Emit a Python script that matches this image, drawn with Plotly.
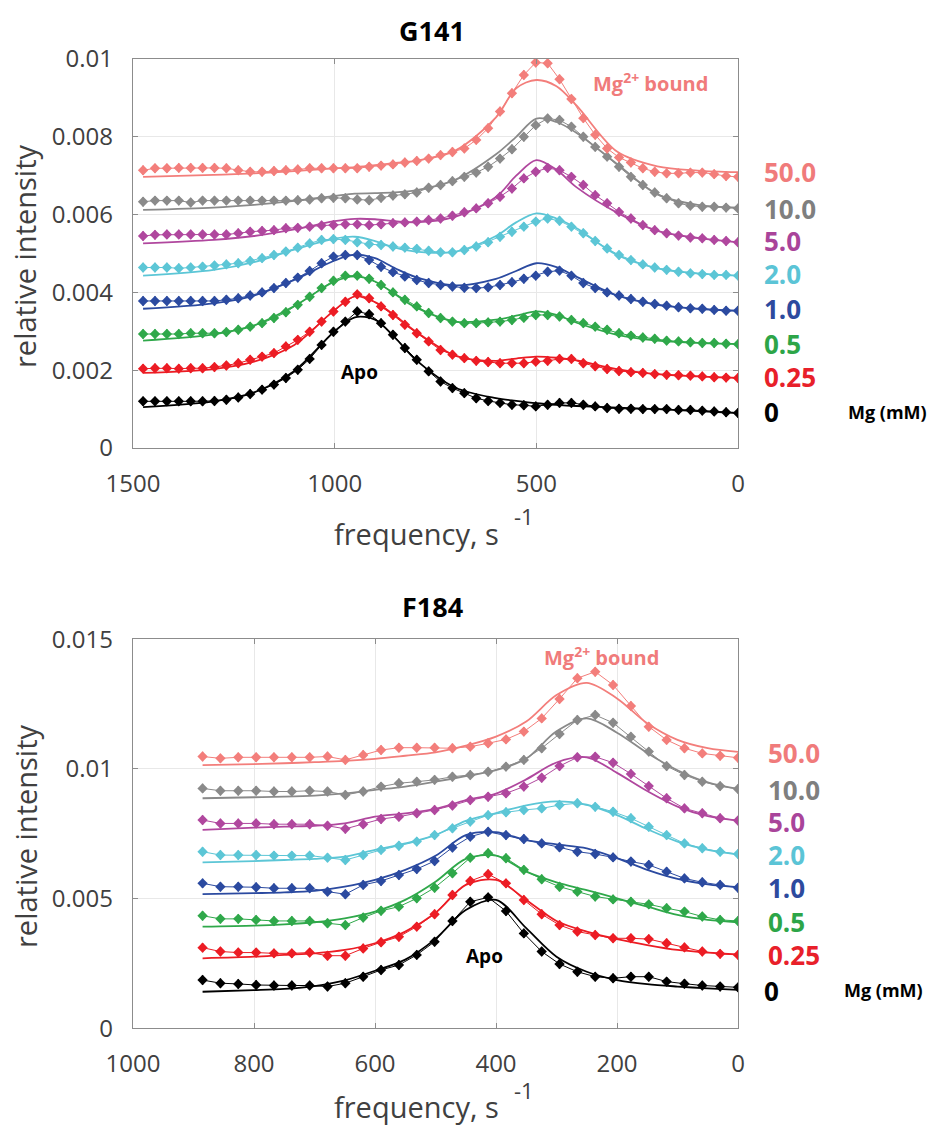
import plotly.graph_objects as go

# ---------------- frequency grids ----------------
STEP = 29.5
freq_g141 = [round(STEP * i, 1) for i in range(51)]   # 0 .. 1475 s^-1
freq_f184 = [round(STEP * i, 1) for i in range(31)]   # 0 .. 885 s^-1

fit_x_g141 = [0, 100, 200, 300, 400, 450, 500, 550, 600, 700, 800, 850, 900,
              950, 1000, 1100, 1200, 1300, 1475]
fit_x_f184 = [0, 50, 100, 150, 200, 250, 300, 350, 400, 450, 500, 550, 600,
              650, 700, 750, 800, 885]

mg_labels = ["0", "0.25", "0.5", "1.0", "2.0", "5.0", "10.0", "50.0"]
colors = ["#000000", "#ec1c24", "#2fa84a", "#2b4aa0", "#5cc6d6", "#b0479e",
          "#8a8a8a", "#f37e7b"]
label_colors = ["#000000", "#e8202a", "#2da548", "#2d4a9e", "#5bc4d6", "#a9449a",
                "#7f7f7f", "#f07b7b"]

# ---------------- G141 measured profiles ----------------
g141_0 = [0.00090, 0.00092, 0.00094, 0.00096, 0.00098, 0.00098, 0.00100, 0.00100, 0.00100, 0.00101,
          0.00101, 0.00103, 0.00107, 0.00111, 0.00116, 0.00116, 0.00111, 0.00107, 0.00110, 0.00111,
          0.00116, 0.00121, 0.00128, 0.00141, 0.00154, 0.00171, 0.00197, 0.00227, 0.00257, 0.00291,
          0.00321, 0.00344, 0.00351, 0.00325, 0.00299, 0.00265, 0.00229, 0.00201, 0.00180, 0.00163,
          0.00150, 0.00139, 0.00130, 0.00124, 0.00121, 0.00120, 0.00120, 0.00120, 0.00120, 0.00120,
          0.00120]
g141_025 = [0.00180, 0.00181, 0.00182, 0.00184, 0.00186, 0.00187, 0.00188, 0.00190, 0.00193, 0.00195,
            0.00198, 0.00203, 0.00210, 0.00218, 0.00229, 0.00229, 0.00224, 0.00222, 0.00218, 0.00218,
            0.00218, 0.00221, 0.00224, 0.00231, 0.00240, 0.00252, 0.00274, 0.00295, 0.00317, 0.00342,
            0.00364, 0.00385, 0.00395, 0.00376, 0.00351, 0.00325, 0.00299, 0.00278, 0.00261, 0.00244,
            0.00235, 0.00227, 0.00218, 0.00212, 0.00208, 0.00205, 0.00205, 0.00204, 0.00205, 0.00205,
            0.00204]
g141_05 = [0.00267, 0.00268, 0.00270, 0.00270, 0.00272, 0.00274, 0.00276, 0.00281, 0.00284, 0.00289,
           0.00295, 0.00304, 0.00312, 0.00321, 0.00329, 0.00338, 0.00342, 0.00342, 0.00335, 0.00329,
           0.00325, 0.00323, 0.00321, 0.00321, 0.00325, 0.00334, 0.00347, 0.00364, 0.00381, 0.00400,
           0.00419, 0.00435, 0.00443, 0.00443, 0.00430, 0.00411, 0.00389, 0.00368, 0.00349, 0.00334,
           0.00321, 0.00312, 0.00304, 0.00298, 0.00295, 0.00295, 0.00295, 0.00293, 0.00293, 0.00293,
           0.00293]
g141_1 = [0.00353, 0.00353, 0.00355, 0.00358, 0.00359, 0.00362, 0.00366, 0.00370, 0.00376, 0.00383,
          0.00392, 0.00400, 0.00411, 0.00424, 0.00443, 0.00456, 0.00453, 0.00443, 0.00435, 0.00426,
          0.00419, 0.00413, 0.00411, 0.00412, 0.00415, 0.00419, 0.00424, 0.00432, 0.00441, 0.00452,
          0.00466, 0.00483, 0.00496, 0.00496, 0.00492, 0.00475, 0.00455, 0.00438, 0.00424, 0.00411,
          0.00400, 0.00392, 0.00385, 0.00381, 0.00378, 0.00378, 0.00378, 0.00378, 0.00378, 0.00378,
          0.00378]
g141_2 = [0.00443, 0.00445, 0.00445, 0.00447, 0.00449, 0.00453, 0.00458, 0.00464, 0.00472, 0.00483,
          0.00496, 0.00513, 0.00532, 0.00552, 0.00569, 0.00584, 0.00590, 0.00582, 0.00569, 0.00556,
          0.00543, 0.00529, 0.00518, 0.00509, 0.00503, 0.00503, 0.00507, 0.00512, 0.00515, 0.00518,
          0.00522, 0.00524, 0.00529, 0.00535, 0.00537, 0.00535, 0.00526, 0.00515, 0.00505, 0.00496,
          0.00488, 0.00481, 0.00475, 0.00472, 0.00469, 0.00466, 0.00464, 0.00462, 0.00464, 0.00464,
          0.00464]
g141_5 = [0.00529, 0.00532, 0.00535, 0.00539, 0.00541, 0.00546, 0.00552, 0.00560, 0.00573, 0.00590,
          0.00607, 0.00629, 0.00650, 0.00676, 0.00697, 0.00714, 0.00720, 0.00710, 0.00693, 0.00667,
          0.00646, 0.00629, 0.00616, 0.00606, 0.00597, 0.00590, 0.00586, 0.00582, 0.00580, 0.00578,
          0.00575, 0.00573, 0.00575, 0.00575, 0.00573, 0.00572, 0.00569, 0.00566, 0.00565, 0.00560,
          0.00558, 0.00556, 0.00552, 0.00549, 0.00549, 0.00549, 0.00549, 0.00549, 0.00549, 0.00548,
          0.00545]
g141_10 = [0.00616, 0.00618, 0.00620, 0.00620, 0.00623, 0.00629, 0.00642, 0.00657, 0.00676, 0.00697,
           0.00723, 0.00749, 0.00774, 0.00800, 0.00826, 0.00843, 0.00847, 0.00830, 0.00800, 0.00768,
           0.00744, 0.00723, 0.00708, 0.00697, 0.00686, 0.00676, 0.00669, 0.00657, 0.00652, 0.00649,
           0.00643, 0.00637, 0.00639, 0.00642, 0.00643, 0.00642, 0.00639, 0.00637, 0.00636, 0.00636,
           0.00636, 0.00636, 0.00636, 0.00636, 0.00636, 0.00636, 0.00631, 0.00636, 0.00636, 0.00636,
           0.00633]
g141_50 = [0.00697, 0.00699, 0.00704, 0.00708, 0.00708, 0.00706, 0.00706, 0.00710, 0.00719, 0.00734,
           0.00747, 0.00770, 0.00805, 0.00848, 0.00897, 0.00948, 0.00989, 0.00991, 0.00959, 0.00912,
           0.00865, 0.00822, 0.00792, 0.00770, 0.00761, 0.00753, 0.00744, 0.00738, 0.00734, 0.00729,
           0.00726, 0.00723, 0.00719, 0.00719, 0.00719, 0.00719, 0.00719, 0.00716, 0.00714, 0.00712,
           0.00710, 0.00710, 0.00714, 0.00719, 0.00720, 0.00720, 0.00720, 0.00720, 0.00719, 0.00719,
           0.00714]

# ---------------- G141 fitted curves ----------------
g141_fit_0 = [0.00090, 0.00095, 0.00100, 0.00104, 0.00108, 0.00111, 0.00115, 0.00121, 0.00128, 0.00155,
              0.00228, 0.00283, 0.00330, 0.00336, 0.00300, 0.00198, 0.00143, 0.00120, 0.00105]
g141_fit_025 = [0.00180, 0.00184, 0.00190, 0.00203, 0.00225, 0.00232, 0.00235, 0.00230, 0.00224, 0.00237,
                0.00300, 0.00340, 0.00375, 0.00390, 0.00355, 0.00265, 0.00222, 0.00203, 0.00193]
g141_fit_05 = [0.00267, 0.00270, 0.00276, 0.00291, 0.00322, 0.00342, 0.00351, 0.00340, 0.00330, 0.00325,
               0.00362, 0.00395, 0.00428, 0.00441, 0.00428, 0.00365, 0.00315, 0.00292, 0.00276]
g141_fit_1 = [0.00353, 0.00358, 0.00368, 0.00392, 0.00440, 0.00465, 0.00475, 0.00455, 0.00435, 0.00418,
              0.00440, 0.00462, 0.00488, 0.00497, 0.00482, 0.00432, 0.00392, 0.00372, 0.00358]
g141_fit_2 = [0.00443, 0.00449, 0.00462, 0.00496, 0.00565, 0.00590, 0.00603, 0.00580, 0.00545, 0.00505,
              0.00505, 0.00515, 0.00532, 0.00543, 0.00538, 0.00510, 0.00478, 0.00458, 0.00443]
g141_fit_5 = [0.00529, 0.00540, 0.00558, 0.00605, 0.00670, 0.00715, 0.00740, 0.00700, 0.00645, 0.00595,
              0.00580, 0.00583, 0.00588, 0.00589, 0.00583, 0.00562, 0.00545, 0.00535, 0.00526]
g141_fit_10 = [0.00618, 0.00625, 0.00652, 0.00730, 0.00810, 0.00838, 0.00847, 0.00800, 0.00755, 0.00690,
               0.00662, 0.00657, 0.00655, 0.00654, 0.00648, 0.00635, 0.00625, 0.00618, 0.00612]
g141_fit_50 = [0.00709, 0.00713, 0.00724, 0.00762, 0.00880, 0.00930, 0.00946, 0.00925, 0.00850, 0.00765,
               0.00738, 0.00733, 0.00727, 0.00722, 0.00719, 0.00712, 0.00706, 0.00702, 0.00697]

# ---------------- F184 measured profiles ----------------
f184_0 = [0.00158, 0.00161, 0.00165, 0.00172, 0.00180, 0.00199, 0.00199, 0.00193, 0.00199, 0.00218,
          0.00248, 0.00296, 0.00366, 0.00452, 0.00505, 0.00488, 0.00414, 0.00334, 0.00283, 0.00244,
          0.00225, 0.00199, 0.00174, 0.00161, 0.00165, 0.00165, 0.00165, 0.00167, 0.00171, 0.00174,
          0.00186]
f184_025 = [0.00283, 0.00287, 0.00296, 0.00312, 0.00328, 0.00344, 0.00347, 0.00347, 0.00360, 0.00373,
            0.00398, 0.00440, 0.00495, 0.00559, 0.00594, 0.00568, 0.00514, 0.00440, 0.00392, 0.00353,
            0.00332, 0.00308, 0.00280, 0.00280, 0.00292, 0.00289, 0.00289, 0.00292, 0.00292, 0.00296,
            0.00311]
f184_05 = [0.00414, 0.00418, 0.00431, 0.00450, 0.00463, 0.00478, 0.00488, 0.00497, 0.00508, 0.00527,
           0.00546, 0.00575, 0.00611, 0.00656, 0.00675, 0.00658, 0.00598, 0.00542, 0.00501, 0.00469,
           0.00453, 0.00427, 0.00398, 0.00405, 0.00414, 0.00414, 0.00414, 0.00418, 0.00422, 0.00422,
           0.00434]
f184_1 = [0.00542, 0.00553, 0.00563, 0.00578, 0.00604, 0.00630, 0.00643, 0.00659, 0.00672, 0.00681,
          0.00698, 0.00713, 0.00730, 0.00745, 0.00758, 0.00739, 0.00697, 0.00645, 0.00614, 0.00591,
          0.00568, 0.00553, 0.00517, 0.00527, 0.00540, 0.00540, 0.00540, 0.00544, 0.00546, 0.00546,
          0.00559]
f184_2 = [0.00672, 0.00681, 0.00694, 0.00713, 0.00745, 0.00777, 0.00810, 0.00835, 0.00854, 0.00868,
          0.00861, 0.00848, 0.00842, 0.00833, 0.00822, 0.00797, 0.00771, 0.00745, 0.00720, 0.00704,
          0.00688, 0.00668, 0.00649, 0.00658, 0.00666, 0.00666, 0.00666, 0.00668, 0.00668, 0.00668,
          0.00681]
f184_5 = [0.00801, 0.00810, 0.00829, 0.00848, 0.00887, 0.00934, 0.00981, 0.01024, 0.01047, 0.01045,
          0.01011, 0.00966, 0.00932, 0.00906, 0.00893, 0.00880, 0.00859, 0.00842, 0.00829, 0.00816,
          0.00807, 0.00787, 0.00769, 0.00781, 0.00787, 0.00787, 0.00787, 0.00790, 0.00790, 0.00790,
          0.00803]
f184_10 = [0.00923, 0.00934, 0.00951, 0.00977, 0.01011, 0.01067, 0.01124, 0.01178, 0.01208, 0.01189,
           0.01135, 0.01080, 0.01035, 0.01009, 0.00989, 0.00977, 0.00970, 0.00958, 0.00951, 0.00945,
           0.00932, 0.00913, 0.00900, 0.00913, 0.00916, 0.00913, 0.00913, 0.00916, 0.00916, 0.00916,
           0.00925]
f184_50 = [0.01043, 0.01051, 0.01060, 0.01080, 0.01112, 0.01163, 0.01243, 0.01324, 0.01375, 0.01350,
           0.01270, 0.01195, 0.01144, 0.01114, 0.01099, 0.01086, 0.01080, 0.01082, 0.01082, 0.01082,
           0.01073, 0.01054, 0.01035, 0.01048, 0.01045, 0.01045, 0.01045, 0.01045, 0.01045, 0.01041,
           0.01048]

# ---------------- F184 fitted curves ----------------
f184_fit_0 = [0.00148, 0.00154, 0.00161, 0.00170, 0.00186, 0.00218, 0.00276, 0.00386, 0.00495, 0.00456,
              0.00345, 0.00265, 0.00222, 0.00185, 0.00163, 0.00152, 0.00147, 0.00141]
f184_fit_025 = [0.00285, 0.00292, 0.00302, 0.00321, 0.00344, 0.00373, 0.00414, 0.00495, 0.00572, 0.00553,
                0.00445, 0.00373, 0.00328, 0.00302, 0.00289, 0.00283, 0.00276, 0.00270]
f184_fit_05 = [0.00409, 0.00418, 0.00437, 0.00469, 0.00501, 0.00533, 0.00563, 0.00604, 0.00666, 0.00653,
               0.00565, 0.00495, 0.00450, 0.00424, 0.00409, 0.00401, 0.00396, 0.00392]
f184_fit_1 = [0.00544, 0.00555, 0.00576, 0.00611, 0.00656, 0.00694, 0.00709, 0.00726, 0.00756, 0.00745,
              0.00665, 0.00611, 0.00572, 0.00546, 0.00530, 0.00524, 0.00521, 0.00517]
f184_fit_2 = [0.00670, 0.00688, 0.00720, 0.00768, 0.00822, 0.00862, 0.00875, 0.00860, 0.00830, 0.00800,
              0.00745, 0.00713, 0.00688, 0.00662, 0.00653, 0.00649, 0.00645, 0.00640]
f184_fit_5 = [0.00801, 0.00818, 0.00855, 0.00915, 0.00985, 0.01045, 0.01025, 0.00960, 0.00905, 0.00880,
              0.00846, 0.00829, 0.00816, 0.00790, 0.00781, 0.00778, 0.00774, 0.00765]
f184_fit_10 = [0.00923, 0.00948, 0.00995, 0.01062, 0.01140, 0.01195, 0.01145, 0.01040, 0.00995, 0.00972,
               0.00951, 0.00932, 0.00919, 0.00906, 0.00897, 0.00893, 0.00891, 0.00887]
f184_fit_50 = [0.01066, 0.01080, 0.01112, 0.01176, 0.01272, 0.01332, 0.01285, 0.01183, 0.01125, 0.01090,
               0.01064, 0.01051, 0.01039, 0.01031, 0.01026, 0.01022, 0.01019, 0.01015]

g141_data = [g141_0, g141_025, g141_05, g141_1, g141_2, g141_5, g141_10, g141_50]
g141_fits = [g141_fit_0, g141_fit_025, g141_fit_05, g141_fit_1, g141_fit_2, g141_fit_5,
             g141_fit_10, g141_fit_50]
f184_data = [f184_0, f184_025, f184_05, f184_1, f184_2, f184_5, f184_10, f184_50]
f184_fits = [f184_fit_0, f184_fit_025, f184_fit_05, f184_fit_1, f184_fit_2, f184_fit_5,
             f184_fit_10, f184_fit_50]

# ---------------- figure ----------------
W, H = 936, 1127


def px(x):
    return x / W


def py(y):
    return 1 - y / H


FONT = "Open Sans"
fig = go.Figure()


def add_panel(xa, ya, freq, data, fit_x, fits, err):
    for col, ys, fy in zip(colors, data, fits):
        fig.add_trace(go.Scatter(
            x=fit_x, y=fy, xaxis=xa, yaxis=ya, mode="lines",
            line=dict(color=col, width=1.8, shape="spline", smoothing=0.9),
            hoverinfo="skip", showlegend=False))
        fig.add_trace(go.Scatter(
            x=freq, y=ys, xaxis=xa, yaxis=ya, mode="lines+markers",
            line=dict(color=col, width=1),
            marker=dict(symbol="diamond", size=8, color=col),
            error_y=dict(type="constant", value=err, color=col, thickness=1.5, width=0),
            showlegend=False))


add_panel("x", "y", freq_g141, g141_data, fit_x_g141, g141_fits, 0.00012)
add_panel("x2", "y2", freq_f184, f184_data, fit_x_f184, f184_fits, 0.00018)

axis_common = dict(
    showline=True, linecolor="#8c8c8c", linewidth=1.3, mirror="ticks",
    ticks="inside", ticklen=5, tickcolor="#8c8c8c", automargin=False,
    showgrid=True, gridcolor="#e8e8e8", gridwidth=1, zeroline=False,
    tickfont=dict(family=FONT, size=24, color="#404040"),
)

xdom = [px(133), px(738)]
fig.update_layout(
    width=W, height=H, margin=dict(l=0, r=0, t=0, b=0, pad=0, autoexpand=False),
    paper_bgcolor="white", plot_bgcolor="white", showlegend=False,
    xaxis=dict(domain=xdom, anchor="y", range=[1500, 0],
               tickvals=[1500, 1000, 500, 0], ticklabelstandoff=14, **axis_common),
    yaxis=dict(domain=[py(448), py(59)], anchor="x", range=[0, 0.01],
               tickvals=[0, 0.002, 0.004, 0.006, 0.008, 0.01],
               ticktext=["0", "0.002", "0.004", "0.006", "0.008", "0.01"],
               ticklabelstandoff=14, **axis_common),
    xaxis2=dict(domain=xdom, anchor="y2", range=[1000, 0],
                tickvals=[1000, 800, 600, 400, 200, 0], ticklabelstandoff=14, **axis_common),
    yaxis2=dict(domain=[py(1028.3), py(639.3)], anchor="x2", range=[0, 0.015],
                tickvals=[0, 0.005, 0.01, 0.015],
                ticktext=["0", "0.005", "0.01", "0.015"],
                ticklabelstandoff=14, **axis_common),
)

ann = []


def text(x, y, s, size, color="#000000", bold=False, anchor="center", angle=0):
    ann.append(dict(
        x=px(x), y=py(y), xref="paper", yref="paper", text=("<b>%s</b>" % s) if bold else s,
        showarrow=False, xanchor=anchor, yanchor="middle", textangle=angle,
        font=dict(family=FONT, size=size, color=color)))


# panel titles
text(432, 31, "G141", 27, bold=True)
text(432, 606, "F184", 27, bold=True)

# axis titles
for yc in (256, 836):
    text(25, yc, "relative intensity", 29, color="#404040", angle=-90)
for yc, ys in ((533, 516), (1106, 1090)):
    text(332, yc, "frequency, s", 29, color="#404040", anchor="left")
    text(512, ys, "-1", 22, color="#404040", anchor="left")

# state labels
text(359, 372, "Apo", 19, bold=True)
text(484, 956, "Apo", 19, bold=True)
text(650, 83, "Mg<sup>2+</sup> bound", 20, color="#f07b7b", bold=True)
text(601, 656, "Mg<sup>2+</sup> bound", 20, color="#f07b7b", bold=True)

# Mg concentration labels next to each profile
top_label_y = [412, 377, 344, 309, 274, 241, 209, 172]
bot_label_y = [991, 955, 922, 888, 855, 822, 790, 753]
for lab, col, yt, yb in zip(mg_labels, label_colors, top_label_y, bot_label_y):
    text(762, yt, lab, 26, color=col, bold=True, anchor="left")
    text(762 if lab == "0" else 766, yb, lab, 26, color=col, bold=True, anchor="left")
text(846, 412, "Mg (mM)", 18, bold=True, anchor="left")
text(842, 990, "Mg (mM)", 18, bold=True, anchor="left")

fig.update_layout(annotations=ann)
fig.write_html("out.html")
